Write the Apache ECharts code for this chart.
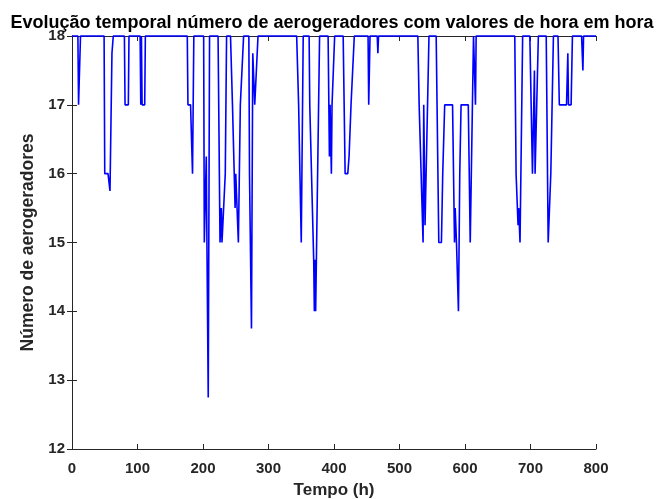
<!DOCTYPE html>
<html>
<head>
<meta charset="utf-8">
<script src="https://cdn.jsdelivr.net/npm/echarts@6/dist/echarts.min.js"></script>
<style>html,body{margin:0;padding:0;background:#fff}#c{width:656px;height:499px}</style>
</head>
<body>
<div id="c"></div>
<script>
// Breakpoints of the hourly series (hour, number of turbines)
var hours = [0,9,10,12,13,49,50,55,58,61,63,80,81,86,87,104,105,106,107,111,112,
  176,177,181,184,186,201,202,204,205,206,208,210,223,226,228,229,231,234,236,
  242,245,249,250,252,254,257,260,262,270,271,274,276,279,282,284,
  343,346,348,350,353,362,363,366,369,370,371,372,374,378,
  391,393,394,396,397,399,401,414,417,421,423,426,429,431,
  452,453,455,466,467,468,528,530,533,536,537,539,541,545,
  556,560,564,566,569,581,584,585,587,590,592,594,605,608,613,616,617,
  676,678,681,682,684,688,699,703,705,706,707,709,712,
  724,727,730,731,735,742,744,755,757,758,762,764,778,780,781,800];
var turbines = [18,18,17,17,18,18,16,16,15.75,17.75,18,18,17,17,18,18,17,18,17,17,18,
  18,17,17,16,18,18,15,15,16.25,15,12.75,18,18,15,15.5,15,15,16,18,
  18,17,15.5,16,16,15,17,17,18,18,16,13.75,17.75,17,17,18,
  18,17,16,15,18,18,17,17,14.75,14,14.75,14,14,18,
  18,16.25,17,16,17,17,18,18,16,16,16.25,17,17,18,
  18,17,18,18,17.75,18,18,17,17,15,17,15.25,15.25,18,
  18,15,15,16,17,17,15,15.5,15,14,16,17,17,15,18,17,18,
  18,16,15.25,15.5,15,18,18,16,16,17.5,16,16,18,
  18,15,15,16,18,18,17,17,17.75,17,17,18,18,17.5,18,18];
var xTicks = [0,100,200,300,400,500,600,700,800];
var yTicks = [12,13,14,15,16,17,18];

var data = hours.map(function(h,i){return [h, turbines[i]];});
var chart = echarts.init(document.getElementById('c'), null, {renderer:'canvas'});
var fontFam = '"Liberation Sans", Arial, sans-serif';
var axisCol = '#262626';
chart.setOption({
  animation:false,
  backgroundColor:'#ffffff',
  title:{text:'Evolução temporal número de aerogeradores com valores de hora em hora',
    left:327, top:9, textAlign:'center',
    textStyle:{fontFamily:fontFam, fontWeight:'bold', fontSize:18, color:'#000'}},
  grid:{left:72, right:60, top:36, bottom:50, containLabel:false, outerBoundsMode:'none'},
  xAxis:[{type:'value', min:xTicks[0], max:xTicks[xTicks.length-1], interval:100, position:'bottom',
    axisLine:{show:true, lineStyle:{color:axisCol, width:1}},
    axisTick:{show:true, inside:true, length:5, lineStyle:{color:axisCol}},
    axisLabel:{margin:12, fontFamily:fontFam, fontWeight:'bold', fontSize:15, color:'#262626'},
    splitLine:{show:false},
    name:'Tempo (h)', nameLocation:'middle', nameGap:33,
    nameTextStyle:{fontFamily:fontFam, fontWeight:'bold', fontSize:17, color:'#262626'}},
   {type:'value', min:0, max:800, interval:100, position:'top',
    axisLine:{show:true, lineStyle:{color:axisCol, width:1}},
    axisTick:{show:true, inside:true, length:5, lineStyle:{color:axisCol}},
    axisLabel:{show:false}, splitLine:{show:false}}],
  yAxis:[{type:'value', min:yTicks[0], max:yTicks[yTicks.length-1], interval:1, position:'left',
    axisLine:{show:true, lineStyle:{color:axisCol, width:1}},
    axisTick:{show:true, inside:true, length:5, lineStyle:{color:axisCol}},
    axisLabel:{margin:7, fontFamily:fontFam, fontWeight:'bold', fontSize:15, color:'#262626'},
    splitLine:{show:false},
    name:'Número de aerogeradores', nameLocation:'middle', nameGap:32,
    nameTextStyle:{fontFamily:fontFam, fontWeight:'bold', fontSize:17.5, color:'#262626'}},
   {type:'value', min:12, max:18, interval:1, position:'right',
    axisLine:{show:true, lineStyle:{color:axisCol, width:1}},
    axisTick:{show:true, inside:true, length:5, lineStyle:{color:axisCol}},
    axisLabel:{show:false}, splitLine:{show:false}}],
  series:[{type:'line', data:data, xAxisIndex:0, yAxisIndex:0, showSymbol:false, symbol:'none',
    clip:false, lineStyle:{color:'#0000ff', width:1.6}, z:5}]
});
</script>
</body>
</html>
